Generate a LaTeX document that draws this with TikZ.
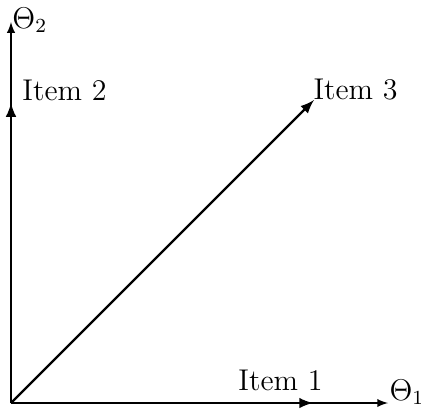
\documentclass[tikz,border=0pt]{standalone}
\usepackage{amsmath}
\usepackage{amssymb}

\begin{document}
\begin{tikzpicture}[x=0.4pt,y=-0.4pt,font=\large,
	axis/.style={-latex, line width=0.5pt},
	itemvec/.style={-latex, line width=0.9pt}]
	\useasboundingbox (0,0) rectangle (421,409);
	\coordinate (O) at (11,403);
	\coordinate (T1) at (388,403);
	\coordinate (T2) at (11,22);
	\coordinate (I1) at (313,403);
	\coordinate (I2) at (11,103);
	\coordinate (I3) at (314,100);

	\draw[axis] (O) -- (T1);
	\draw[axis] (O) -- (T2);
	\draw[itemvec] (O) -- (I1);
	\draw[itemvec] (O) -- (I2);
	\draw[itemvec] (O) -- (I3);

	\node[anchor=base west, inner sep=0pt] (t1) at (389,400) {$\Theta_1$};
	\node[anchor=base west, inner sep=0pt] (t2) at (12,28) {$\Theta_2$};
	\node[anchor=base west, inner sep=0pt] (l1) at (238,390) {Item 1};
	\node[anchor=base west, inner sep=0pt] (l2) at (22,100) {Item 2};
	\node[anchor=base west, inner sep=0pt] (l3) at (313,99) {Item 3};
\end{tikzpicture}
\end{document}
